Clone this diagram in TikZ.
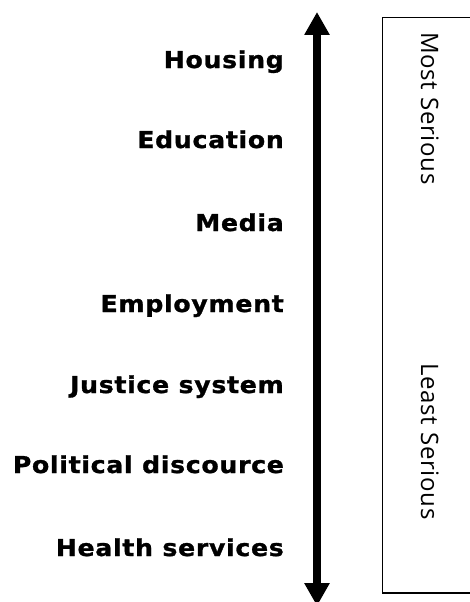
\documentclass[tikz,border=0pt]{standalone}
\usepackage{fontspec}
\newfontfamily\issuefont{DejaVu Sans}[FakeStretch=1.08, LetterSpace=3, BoldFeatures={FakeBold=1.2}]
\newfontfamily\rankfont{Open Sans}[LetterSpace=3]
\usetikzlibrary{arrows.meta,positioning}

\begin{document}
\begin{tikzpicture}[x=1pt,y=-1pt]

	\tikzset{
	issue/.style={anchor=base east, inner sep=0pt, font=\issuefont\bfseries\fontsize{23.3}{27}\selectfont},
	rank/.style={anchor=base west, rotate=-90, inner sep=0pt, font=\rankfont\fontsize{24}{28}\selectfont},
	axis/.style={line width=7.5pt, {Triangle[length=23pt,width=24pt]}-{Triangle[length=23pt,width=24pt]}},
	frame/.style={line width=1.3pt}
}

\useasboundingbox (0,0) rectangle (470,602);

% issues, most serious on top
\node[issue](housing) at (284,68){Housing};
\node[issue](education) at (284,148){Education};
\node[issue](media) at (284,231){Media};
\node[issue](employment) at (284,312){Employment};
\node[issue](justice) at (284,393){Justice system};
\node[issue](political) at (284,473){Political discource};
\node[issue](health) at (284,556){Health services};

% the scale
\coordinate (top) at (317,12);
\coordinate (bottom) at (317,606);
\draw[axis] (bottom) -- (top);

% box on the right
\draw[frame] (480,17.5) -- (382.5,17.5) -- (382.5,593) -- (480,593);
\node[rank](most) at (421,32){Most Serious};
\node[rank](least) at (421,363){Least Serious};

\end{tikzpicture}
\end{document}
